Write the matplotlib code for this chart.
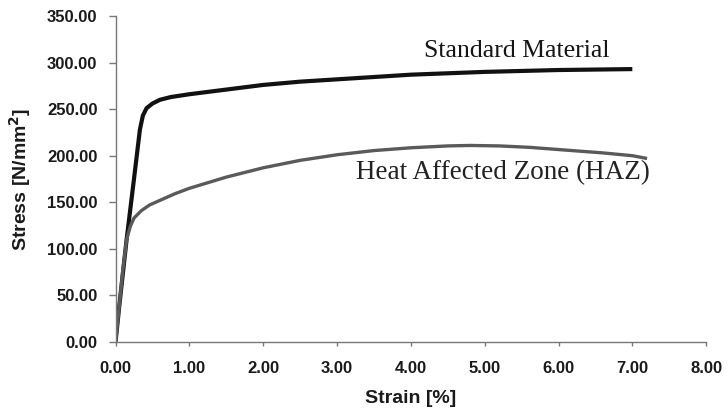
import matplotlib
matplotlib.use("Agg")
import matplotlib.pyplot as plt
import numpy as np

# stress-strain curves
std_strain = [0, 0.05, 0.15, 0.25, 0.33, 0.37, 0.42, 0.5, 0.6, 0.75, 1.0, 1.5, 2.0, 2.5,
              3.0, 3.5, 4.0, 4.5, 5.0, 5.5, 6.0, 6.5, 7.0]
std_stress = [0, 38, 110, 175, 228, 243, 251, 256, 260, 263, 266, 271, 276, 279.5,
              282, 284.5, 287, 288.5, 290, 291, 292, 292.5, 293]

haz_strain = [0, 0.05, 0.1, 0.15, 0.2, 0.25, 0.35, 0.46, 0.6, 0.8, 1.0, 1.25, 1.5, 1.75,
              2.0, 2.25, 2.5, 2.75, 3.0, 3.5, 4.0, 4.5, 4.8, 5.2, 5.6, 6.1, 6.6, 7.0, 7.2]
haz_stress = [0, 38, 78, 110, 124, 133, 141, 147, 152, 159, 165, 171, 177, 182,
              187, 191, 195, 198, 201, 205.5, 208.5, 210.5, 211, 210.5, 209, 206, 203,
              200, 197]

xticks = np.arange(0, 9, 1)
yticks = np.arange(0, 351, 50)

fig = plt.figure(figsize=(7.28, 4.17), dpi=100)
ax = fig.add_axes([0.1587, 0.180, 0.8113, 0.7816])

ax.plot(std_strain, std_stress, color="#111111", lw=3.0, solid_joinstyle="round",
        solid_capstyle="butt")
ax.plot(haz_strain, haz_stress, color="#5a5a5a", lw=2.4, solid_joinstyle="round",
        solid_capstyle="butt")

ax.set_xlim(0, 8)
ax.set_ylim(0, 350)
ax.set_xticks(xticks)
ax.set_yticks(yticks)
ax.set_xticklabels(["%.2f" % v for v in xticks])
ax.set_yticklabels(["%.2f" % v for v in yticks])

for s in ["top", "right"]:
    ax.spines[s].set_visible(False)
for s in ["left", "bottom"]:
    ax.spines[s].set_color("#777777")
    ax.spines[s].set_linewidth(1.0)

ax.tick_params(axis="x", direction="out", length=3, width=1, color="#777777",
               pad=11, labelsize=12, labelcolor="#1a1a1a")
ax.tick_params(axis="y", direction="out", length=5, width=1, color="#777777",
               pad=8, labelsize=12, labelcolor="#1a1a1a")
for lab in ax.get_xticklabels() + ax.get_yticklabels():
    lab.set_family("Liberation Sans")
    lab.set_fontweight("bold")

ax.set_xlabel("Strain [%]", family="Liberation Sans", fontweight="bold", fontsize=14,
              color="#1a1a1a", labelpad=10)
ax.set_ylabel("Stress [N/mm$^\\mathbf{2}$]", family="Liberation Sans", fontweight="bold",
              fontsize=14, color="#1a1a1a", labelpad=10)

ax.text(5.44, 312, "Standard Material", family="Liberation Serif", fontsize=18.5,
        color="#151515", ha="center", va="center")
ax.text(5.25, 182, "Heat Affected Zone (HAZ)", family="Liberation Serif", fontsize=19.5,
        color="#222222", ha="center", va="center")

fig.savefig("out.png", dpi=100)
